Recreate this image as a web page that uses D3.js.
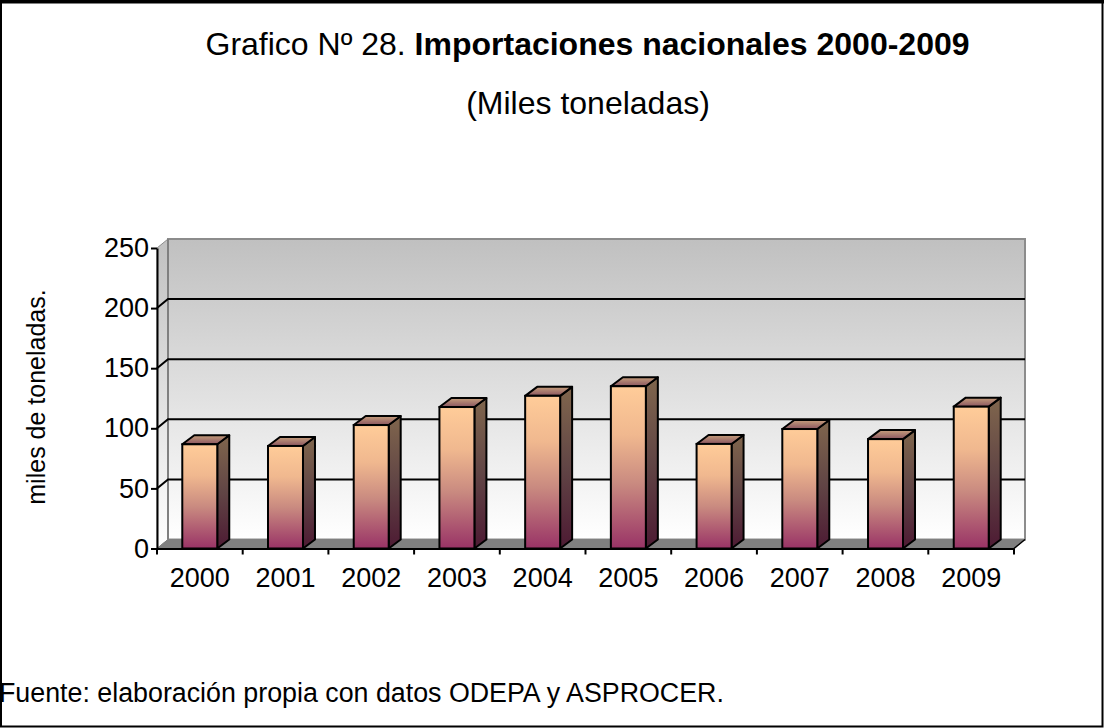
<!DOCTYPE html>
<html>
<head>
<meta charset="utf-8">
<script src="https://cdn.jsdelivr.net/npm/d3@7"></script>
<style>
html,body{margin:0;padding:0;background:#fff}
svg{display:block}
text{font-family:"Liberation Sans",Arial,sans-serif;fill:#000}
</style>
</head>
<body>
<svg id="chart" width="1104" height="728"></svg>
<script>
const years=["2000","2001","2002","2003","2004","2005","2006","2007","2008","2009"];
const imports=[86.7,85.3,102.7,117.7,127,135,87,99.4,91,118];
const yTicks=[0,50,100,150,200,250];

let svg=d3.select("#chart");
let plotL=157,plotR=1014,plotB=548.5,plotT=248;
let dx=11,dy=9,barDx=12;

let x=d3.scaleBand().domain(years).range([plotL,plotR]).paddingInner(0.592).paddingOuter(0.295);
let y=d3.scaleLinear().domain([0,250]).range([plotB,plotT]);

// outer frame, the top edge is heavier in the original
svg.append("rect").attr("x",1).attr("y",1).attr("width",1101.5).attr("height",725.5)
	.attr("fill","white").attr("stroke","black").attr("stroke-width",2);
svg.append("line").attr("x1",0).attr("x2",1104).attr("y1",1.75).attr("y2",1.75)
	.attr("stroke","black").attr("stroke-width",3.5);

let defs=svg.append("defs");
function grad(id,stops){
	let g=defs.append("linearGradient").attr("id",id).attr("x1",0).attr("y1",0).attr("x2",0).attr("y2",1);
	stops.forEach(s=>g.append("stop").attr("offset",s[0]).attr("stop-color",s[1]));
}
grad("wall",[[0,"#c0c0c0"],[1,"#ffffff"]]);
grad("front",[[0,"#ffcc99"],[0.3,"#f0b88f"],[0.6,"#c98a80"],[1,"#993366"]]);
grad("side",[[0,"#80664d"],[0.5,"#614545"],[1,"#4d1a33"]]);
grad("topface",[[0,"#c69f7c"],[1,"#8a5560"]]);

// back wall and side wall
svg.append("rect").attr("x",plotL+dx).attr("y",plotT-dy).attr("width",plotR-plotL).attr("height",plotB-plotT)
	.attr("fill","url(#wall)").attr("stroke","#8c8c8c").attr("stroke-width",2);
let pts=a=>a.map(p=>p.join(",")).join(" ");
svg.append("polygon").attr("points",pts([[plotL,plotT],[plotL+dx,plotT-dy],[plotL+dx,plotB-dy],[plotL,plotB]]))
	.attr("fill","url(#wall)").attr("stroke","#8c8c8c").attr("stroke-width",1);
svg.append("line").attr("x1",plotL+dx).attr("x2",plotL+dx).attr("y1",plotT-dy).attr("y2",plotB-dy)
	.attr("stroke","#808080").attr("stroke-width",2);
// floor
svg.append("polygon").attr("points",pts([[plotL,plotB],[plotL+dx,plotB-dy],[plotR+dx,plotB-dy],[plotR,plotB]]))
	.attr("fill","#808080").attr("stroke","#808080");

// gridlines
svg.append("g").selectAll("path").data(yTicks.filter(d=>d>0&&d<250)).enter().append("path")
	.attr("d",d=>`M${plotL},${y(d)}L${plotL+dx},${y(d)-dy}H${plotR+dx}`)
	.attr("fill","none").attr("stroke","black").attr("stroke-width",2);
svg.append("path").attr("d",`M${plotR},${plotB}L${plotR+dx},${plotB-dy}`)
	.attr("stroke","black").attr("stroke-width",1.5);

// bars
let bars=svg.append("g").selectAll("g").data(imports).enter().append("g")
	.attr("transform",(d,i)=>`translate(${x(years[i])},0)`);
let w=x.bandwidth();
bars.append("polygon")
	.attr("points",d=>pts([[w,y(d)],[w+barDx,y(d)-dy],[w+barDx,plotB-dy],[w,plotB]]))
	.attr("fill","url(#side)").attr("stroke","black").attr("stroke-width",2).attr("stroke-linejoin","round");
bars.append("polygon")
	.attr("points",d=>pts([[0,y(d)],[barDx,y(d)-dy],[w+barDx,y(d)-dy],[w,y(d)]]))
	.attr("fill","url(#topface)").attr("stroke","black").attr("stroke-width",2).attr("stroke-linejoin","round");
bars.append("rect")
	.attr("x",0).attr("y",d=>y(d)).attr("width",w).attr("height",d=>plotB-y(d))
	.attr("fill","url(#front)").attr("stroke","black").attr("stroke-width",2);

// axes
let yAxis=svg.append("g").attr("transform",`translate(${plotL},0)`)
	.call(d3.axisLeft(y).tickValues(yTicks).tickSize(6).tickSizeOuter(0).tickPadding(2));
let xAxis=svg.append("g").attr("transform",`translate(0,${plotB})`)
	.call(d3.axisBottom(x).tickSize(0).tickPadding(19));
// tick marks sit between the categories
let xEdges=d3.range(0,years.length+1).map(i=>plotL+i*(plotR-plotL)/years.length);
xAxis.selectAll(".edge").data(xEdges).enter().append("line").attr("class","edge")
	.attr("x1",d=>d).attr("x2",d=>d).attr("y1",0).attr("y2",6).attr("stroke","black");
[yAxis,xAxis].forEach(a=>{
	a.selectAll("text").attr("font-size",27).attr("font-family",null);
	a.selectAll("line").attr("stroke-width",2);
	a.select(".domain").attr("stroke-width",2);
});

// texts
svg.append("text").attr("transform","translate(45,397) rotate(-90)").attr("text-anchor","middle")
	.attr("font-size",25).text("miles de toneladas.");
let title=svg.append("text").attr("x",587.5).attr("y",55).attr("text-anchor","middle").attr("font-size",32);
title.append("tspan").text("Grafico Nº 28. ");
title.append("tspan").attr("font-weight","bold").text("Importaciones nacionales 2000-2009");
svg.append("text").attr("x",588).attr("y",114).attr("text-anchor","middle").attr("font-size",32).text("(Miles toneladas)");
svg.append("text").attr("x",-1).attr("y",702).attr("font-size",26.8).text("Fuente: elaboración propia con datos ODEPA y ASPROCER.");
</script>
</body>
</html>
